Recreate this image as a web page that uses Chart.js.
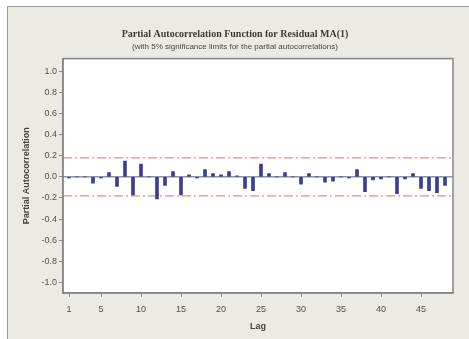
<!DOCTYPE html>
<html>
<head>
<meta charset="utf-8">
<script src="https://cdn.jsdelivr.net/npm/chart.js@4"></script>
<style>
  html, body { margin: 0; padding: 0; background: #ffffff; }
  #wrap { width: 469px; height: 339px; position: relative; }
</style>
</head>
<body>
<div id="wrap"><canvas id="c" width="469" height="339"></canvas></div>
<script>
// Partial autocorrelations of the MA(1) residuals, lags 1..48
const lags = [
  1, 2, 3, 4, 5, 6, 7, 8, 9, 10, 11, 12, 13, 14, 15, 16,
  17, 18, 19, 20, 21, 22, 23, 24, 25, 26, 27, 28, 29, 30, 31, 32,
  33, 34, 35, 36, 37, 38, 39, 40, 41, 42, 43, 44, 45, 46, 47, 48
];
const pacf = [
  -0.01, 0.00, 0.00, -0.06, -0.01, 0.04, -0.09, 0.15, -0.17, 0.12, 0.00, -0.21, -0.08, 0.05, -0.17, 0.02,
  -0.01, 0.07, 0.03, 0.02, 0.05, 0.01, -0.11, -0.13, 0.12, 0.03, 0.00, 0.04, 0.00, -0.07, 0.03, 0.00,
  -0.05, -0.04, 0.00, -0.01, 0.07, -0.14, -0.03, -0.02, 0.00, -0.16, -0.02, 0.03, -0.11, -0.13, -0.15, -0.08
];
// 5% significance limits
const sigLimit = 0.18;
const xTickValues = [1, 5, 10, 15, 20, 25, 30, 35, 40, 45];
const yTickValues = [-1.0, -0.8, -0.6, -0.4, -0.2, 0.0, 0.2, 0.4, 0.6, 0.8, 1.0];

const X_MIN = 0.25, X_MAX = 49;

// Beige panel behind the chart, plus the frame around the plotting area
const panelPlugin = {
  id: 'panel',
  beforeDraw(chart) {
    const ctx = chart.ctx;
    ctx.save();
    ctx.fillStyle = '#ffffff';
    ctx.fillRect(0, 0, chart.width, chart.height);
    ctx.fillStyle = '#ecebe3';
    ctx.fillRect(7, 6, chart.width - 7, chart.height - 6);
    ctx.strokeStyle = '#9a9a94';
    ctx.lineWidth = 1;
    ctx.beginPath();
    ctx.moveTo(7.5, chart.height);
    ctx.lineTo(7.5, 6.5);
    ctx.lineTo(chart.width, 6.5);
    ctx.stroke();
    const a = chart.chartArea;
    ctx.fillStyle = '#ffffff';
    ctx.fillRect(a.left, a.top, a.right - a.left, a.bottom - a.top);
    ctx.restore();
  },
  afterDraw(chart) {
    const ctx = chart.ctx;
    const a = chart.chartArea;
    ctx.save();
    ctx.strokeStyle = '#858585';
    ctx.lineWidth = 1.5;
    ctx.strokeRect(a.left, a.top, a.right - a.left, a.bottom - a.top);
    ctx.restore();
  }
};

new Chart(document.getElementById('c'), {
  type: 'bar',
  data: {
    datasets: [
      {
        type: 'line',
        label: 'Upper limit',
        data: [{ x: X_MIN, y: sigLimit }, { x: X_MAX, y: sigLimit }],
        borderColor: '#e8907c',
        borderWidth: 1.3,
        borderDash: [9, 3, 2, 3],
        pointRadius: 0,
        order: 3
      },
      {
        type: 'line',
        label: 'Lower limit',
        data: [{ x: X_MIN, y: -sigLimit }, { x: X_MAX, y: -sigLimit }],
        borderColor: '#e8907c',
        borderWidth: 1.3,
        borderDash: [9, 3, 2, 3],
        pointRadius: 0,
        order: 3
      },
      {
        type: 'line',
        label: 'Zero',
        data: [{ x: X_MIN, y: 0 }, { x: X_MAX, y: 0 }],
        borderColor: '#4c5a8a',
        borderWidth: 1,
        pointRadius: 0,
        order: 2
      },
      {
        type: 'bar',
        label: 'PACF',
        data: lags.map((l, i) => ({ x: l, y: pacf[i] })),
        backgroundColor: '#3b3f8f',
        borderWidth: 0,
        barThickness: 3,
        order: 1
      }
    ]
  },
  options: {
    responsive: false,
    animation: false,
    devicePixelRatio: 1,
    layout: { padding: { left: 17, right: 16, top: 0, bottom: 0 } },
    plugins: {
      legend: { display: false },
      tooltip: { enabled: false },
      title: {
        display: true,
        text: 'Partial Autocorrelation Function for Residual MA(1)',
        color: '#3a3a3a',
        font: { family: 'Liberation Serif', size: 10, weight: 'bold' },
        padding: { top: 28, bottom: 2 }
      },
      subtitle: {
        display: true,
        text: '(with 5% significance limits for the partial autocorrelations)',
        color: '#444444',
        font: { family: 'Liberation Sans', size: 8 },
        padding: { top: 0, bottom: 7 }
      }
    },
    scales: {
      x: {
        type: 'linear',
        min: X_MIN,
        max: X_MAX,
        offset: false,
        afterBuildTicks(scale) { scale.ticks = xTickValues.map(v => ({ value: v })); },
        afterFit(scale) { scale.height = 46; },
        ticks: {
          color: '#505050',
          font: { family: 'Liberation Sans', size: 9 },
          padding: 7,
          maxRotation: 0,
          autoSkip: false
        },
        grid: { offset: false, drawOnChartArea: false, drawTicks: true, tickLength: 4, color: '#888888' },
        border: { display: true, color: '#858585', width: 1.5 },
        title: {
          display: true,
          text: 'Lag',
          color: '#444444',
          font: { family: 'Liberation Sans', size: 9, weight: 'bold' },
          padding: { top: 0, bottom: 7 }
        }
      },
      y: {
        type: 'linear',
        min: -1.1,
        max: 1.12,
        afterBuildTicks(scale) { scale.ticks = yTickValues.map(v => ({ value: v })); },
        afterFit(scale) { scale.width = 46; },
        ticks: {
          color: '#505050',
          font: { family: 'Liberation Sans', size: 9 },
          padding: 2,
          callback: v => v.toFixed(1)
        },
        grid: { drawOnChartArea: false, drawTicks: true, tickLength: 4, color: '#888888' },
        border: { display: true, color: '#858585', width: 1.5 },
        title: {
          display: true,
          text: 'Partial Autocorrelation',
          color: '#444444',
          font: { family: 'Liberation Sans', size: 9, weight: 'bold' },
          padding: { top: 4, bottom: 2 }
        }
      }
    }
  },
  plugins: [panelPlugin]
});
</script>
</body>
</html>
